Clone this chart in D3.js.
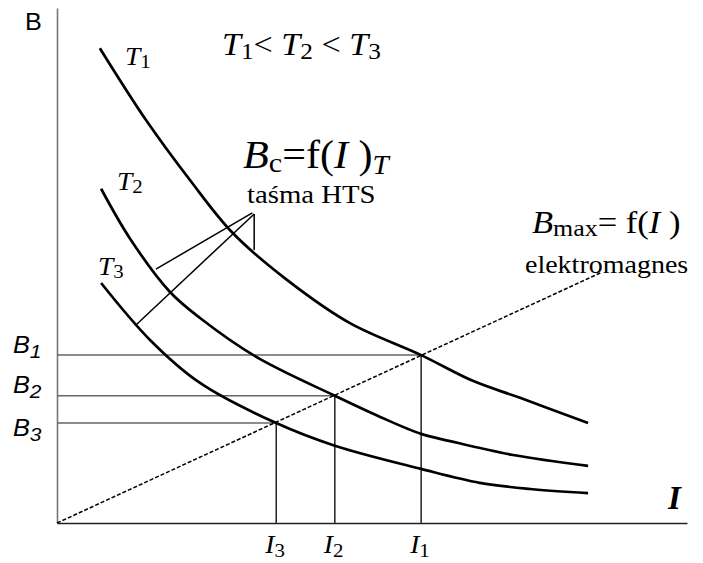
<!DOCTYPE html>
<html>
<head>
<meta charset="utf-8">
<script src="https://cdn.jsdelivr.net/npm/d3@7"></script>
<style>
  body { margin: 0; background: #fff; }
  svg { display: block; }
</style>
</head>
<body>
<svg id="chart" width="703" height="563"></svg>
<script>
// Critical-field curves of the HTS tape at three temperatures (I vs B)
const currentT1 = [0.68, 1.41, 2.11, 2.79, 3.65, 4.65, 5.78, 6.60, 7.35, 8.43];
const fieldT1   = [9.22, 7.83, 6.66, 5.63, 4.72, 3.88, 3.26, 2.76, 2.43, 1.94];
const currentT2 = [0.70, 1.16, 1.79, 2.27, 3.17, 4.41, 5.13, 5.78, 6.24, 7.24, 8.43];
const fieldT2   = [6.49, 5.52, 4.49, 3.98, 3.22, 2.47, 2.06, 1.73, 1.59, 1.32, 1.11];
const currentT3 = [0.70, 1.48, 2.27, 3.48, 4.41, 5.78, 6.71, 7.51, 8.43];
const fieldT3   = [4.66, 3.55, 2.72, 1.94, 1.50, 1.05, 0.78, 0.66, 0.58];

// Electromagnet load line B_max = f(I)
const magnetCurrent = [0, 8.65];
const magnetField   = [0, 4.87];

// Operating points (intersections)
const opCurrent = [5.78, 4.41, 3.48];
const opField   = [3.26, 2.47, 1.94];
const opIndex   = ["1", "2", "3"];

// Leader lines from the "taśma HTS" note
const leaderX = [[1.57, 3.10], [1.24, 3.13], [3.13, 3.13]];
const leaderY = [[4.93, 6.02], [3.83, 6.00], [6.00, 5.30]];

const svg = d3.select("#chart");
const x = d3.scaleLinear().domain([0, 10]).range([57, 687]);
const y = d3.scaleLinear().domain([0, 10]).range([523, 8]);

const serif = "'Liberation Serif', 'Times New Roman', serif";
const sans  = "'Liberation Sans', Arial, sans-serif";
const SX = 1.15;

// Axes (no ticks)
svg.append("g").attr("transform", `translate(0,${y(0)})`)
  .call(d3.axisBottom(x).tickValues([]).tickSizeOuter(0))
  .select(".domain").attr("stroke", "#222").attr("stroke-width", 1.6);
svg.append("g").attr("transform", `translate(${x(0)},0)`)
  .call(d3.axisLeft(y).tickValues([]).tickSizeOuter(0))
  .select(".domain").attr("stroke", "#777").attr("stroke-width", 1.6);

// Guide lines to the operating points
opCurrent.forEach((c, i) => {
  svg.append("line")
    .attr("x1", x(0)).attr("x2", x(c))
    .attr("y1", y(opField[i])).attr("y2", y(opField[i]))
    .attr("stroke", "#666").attr("stroke-width", 1.5);
  svg.append("line")
    .attr("x1", x(c)).attr("x2", x(c))
    .attr("y1", y(opField[i])).attr("y2", y(0))
    .attr("stroke", "#222").attr("stroke-width", 1.5);
});

// Load line
svg.append("line")
  .attr("x1", x(magnetCurrent[0])).attr("y1", y(magnetField[0]))
  .attr("x2", x(magnetCurrent[1])).attr("y2", y(magnetField[1]))
  .attr("stroke", "#000").attr("stroke-width", 1.5)
  .attr("stroke-dasharray", "4,2");

// Critical curves
const line = d3.line().x(d => x(d[0])).y(d => y(d[1])).curve(d3.curveCatmullRom.alpha(0.5));
[[currentT1, fieldT1], [currentT2, fieldT2], [currentT3, fieldT3]].forEach(([cs, bs]) => {
  svg.append("path")
    .attr("d", line(d3.zip(cs, bs)))
    .attr("fill", "none").attr("stroke", "#000").attr("stroke-width", 2.7);
});

// Leader lines
leaderX.forEach((xs, i) => {
  svg.append("line")
    .attr("x1", x(xs[0])).attr("y1", y(leaderY[i][0]))
    .attr("x2", x(xs[1])).attr("y2", y(leaderY[i][1]))
    .attr("stroke", "#000").attr("stroke-width", 1.5);
});

// Text helper: parts = [{t, i (italic), b (bold), s (size), dy}]
function label(px, py, parts, opt = {}) {
  const g = svg.append("g").attr("transform", `translate(${px},${py}) scale(${opt.sx || SX},1)`);
  const t = g.append("text").style("font-family", opt.font || serif).attr("fill", "#000");
  parts.forEach(p => {
    t.append("tspan")
      .attr("font-size", p.s)
      .attr("font-style", p.i ? "italic" : "normal")
      .attr("font-weight", p.b ? "bold" : "normal")
      .attr("dy", p.dy || 0)
      .text(p.t);
  });
  return t;
}

// Axis titles
label(25, 30, [{t: "B", s: 24}], {font: sans, sx: 1.05});
label(668, 509, [{t: "I", s: 33, i: true, b: true}], {sx: 1.0});

// Temperature order
label(222, 55, [
  {t: "T", s: 31, i: true}, {t: "1", s: 23, dy: 4}, {t: "< ", s: 31, dy: -4},
  {t: "T", s: 31, i: true}, {t: "2", s: 23, dy: 4}, {t: " < ", s: 31, dy: -4},
  {t: "T", s: 31, i: true}, {t: "3", s: 23, dy: 4}
], {sx: 1.1});

// Curve labels
[["1", 125, 65], ["2", 117, 190], ["3", 98, 275]].forEach(([n, px, py]) => {
  label(px, py, [{t: "T", s: 25, i: true}, {t: n, s: 19, dy: 3}], {sx: 1.1});
});

// Tape characteristic note
label(243, 168, [
  {t: "B", s: 39, i: true}, {t: "c", s: 28, dy: 4}, {t: "=f(", s: 39, dy: -4},
  {t: "I", s: 39, i: true}, {t: " )", s: 39}, {t: "T", s: 27, i: true, dy: 6}
], {sx: 1.08});
label(247, 203, [{t: "taśma HTS", s: 25}], {sx: 1.15});

// Electromagnet note
label(532, 233, [
  {t: "B", s: 32, i: true}, {t: "max", s: 24, dy: 3}, {t: "= f(", s: 32, dy: -3},
  {t: "I", s: 32, i: true}, {t: " )", s: 32}
], {sx: 1.08});
label(525, 273, [{t: "elektromagnes", s: 25}], {sx: 1.12});

// Operating-point labels on both axes
const bLabelY = [353, 393, 436];
opField.forEach((b, i) => {
  label(13, bLabelY[i], [{t: "B", s: 23, i: true}, {t: opIndex[i], s: 19, i: true, dy: 5}],
        {font: sans, sx: 1.1});
});
opCurrent.forEach((c, i) => {
  label(x(c) - 11, 553, [{t: "I", s: 25, i: true}, {t: opIndex[i], s: 19, dy: 4}], {sx: 1.1});
});
</script>
</body>
</html>
